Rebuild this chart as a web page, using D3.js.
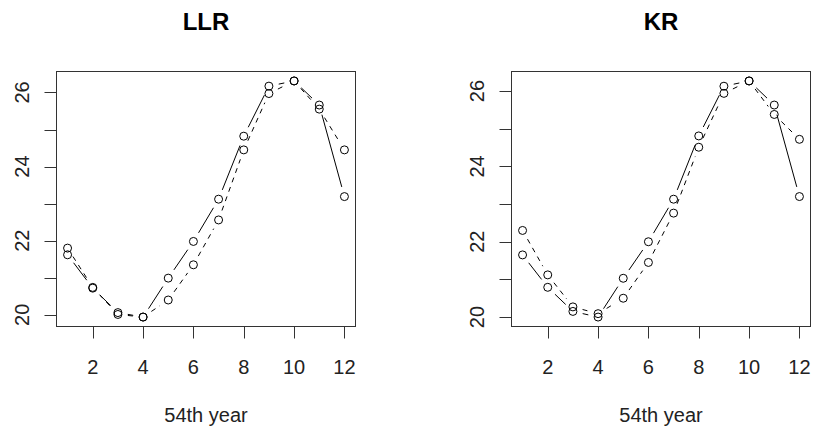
<!DOCTYPE html>
<html>
<head>
<meta charset="utf-8">
<script src="https://cdn.jsdelivr.net/npm/d3@7"></script>
<style>
  body { margin: 0; background: white; }
  text { font-family: "Liberation Sans", Arial, sans-serif; }
</style>
</head>
<body>
<div id="vis"></div>
<script>
// months of the 54th year
const months = [1, 2, 3, 4, 5, 6, 7, 8, 9, 10, 11, 12];

// LLR panel: solid and dashed series
const llrSolid  = [21.62, 20.72, 20.06, 19.94, 20.99, 21.98, 23.12, 24.82, 26.17, 26.31, 25.66, 23.19];
const llrDashed = [21.80, 20.74, 20.01, 19.94, 20.40, 21.35, 22.56, 24.45, 25.97, 26.31, 25.55, 24.45];

// KR panel: solid and dashed series
const krSolid  = [21.65, 20.79, 20.15, 20.00, 21.03, 22.00, 23.13, 24.81, 26.13, 26.27, 25.63, 23.20];
const krDashed = [22.30, 21.12, 20.27, 20.09, 20.50, 21.45, 22.76, 24.51, 25.94, 26.27, 25.38, 24.72];

// axis ticks
const xTicks = [2, 4, 6, 8, 10, 12];
const yTicks = [20, 21, 22, 23, 24, 25, 26];
const yLabels = [20, 22, 24, 26];

const panelTitles = ['LLR', 'KR'];
const xTitle = '54th year';

let W = 814, H = 430;

let svg = d3.select('#vis')
  .append('svg')
  .attr('width', W)
  .attr('height', H)
  .style('background-color', 'white');

let plotTop = 71.5, plotBottom = 326.5;

// R style range: data range widened by 4% on each side
function rRange(vals) {
  let lo = d3.min(vals), hi = d3.max(vals);
  let pad = (hi - lo) * 0.04;
  return [lo - pad, hi + pad];
}

function drawPanel(left, right, title, solid, dashed) {
  let g = svg.append('g');

  let x = d3.scaleLinear()
    .domain(rRange(months))
    .range([left, right]);
  let y = d3.scaleLinear()
    .domain(rRange(solid.concat(dashed)))
    .range([plotBottom, plotTop]);

  // box
  g.append('rect')
    .attr('x', left).attr('y', plotTop)
    .attr('width', right - left).attr('height', plotBottom - plotTop)
    .attr('fill', 'none').attr('stroke', '#333').attr('stroke-width', 1);

  // x axis ticks
  g.selectAll('.xt').data(xTicks).enter().append('line')
    .attr('x1', d => Math.round(x(d)) + 0.5).attr('x2', d => Math.round(x(d)) + 0.5)
    .attr('y1', plotBottom).attr('y2', plotBottom + 12)
    .attr('stroke', '#333');
  g.selectAll('.xl').data(xTicks).enter().append('text')
    .attr('x', d => x(d)).attr('y', 374)
    .attr('text-anchor', 'middle')
    .style('font-size', '20px').attr('fill', '#222')
    .text(d => d);

  // y axis ticks
  g.selectAll('.yt').data(yTicks).enter().append('line')
    .attr('x1', left - 12).attr('x2', left)
    .attr('y1', d => Math.round(y(d)) + 0.5).attr('y2', d => Math.round(y(d)) + 0.5)
    .attr('stroke', '#333');
  g.selectAll('.yl').data(yLabels).enter().append('text')
    .attr('transform', d => 'translate(' + (left - 28) + ',' + y(d) + ') rotate(-90)')
    .attr('text-anchor', 'middle')
    .style('font-size', '20px').attr('fill', '#222')
    .text(d => d);

  // titles
  g.append('text')
    .attr('x', (left + right) / 2).attr('y', 30)
    .attr('text-anchor', 'middle')
    .style('font-size', '24px').style('font-weight', 'bold')
    .text(title);
  g.append('text')
    .attr('x', (left + right) / 2).attr('y', 422)
    .attr('text-anchor', 'middle')
    .style('font-size', '20px').attr('fill', '#222')
    .text(xTitle);

  // type = "b": segments with a gap round every point
  let gap = 10;
  function series(vals, dash) {
    let pts = vals.map((v, i) => [x(months[i]), y(v)]);
    for (let i = 1; i < pts.length; i++) {
      let [x0, y0] = pts[i - 1], [x1, y1] = pts[i];
      let len = Math.hypot(x1 - x0, y1 - y0);
      if (len <= 2 * gap) continue;
      let f = gap / len;
      g.append('line')
        .attr('x1', x0 + (x1 - x0) * f).attr('y1', y0 + (y1 - y0) * f)
        .attr('x2', x1 - (x1 - x0) * f).attr('y2', y1 - (y1 - y0) * f)
        .attr('stroke', 'black').attr('stroke-width', 1)
        .attr('stroke-dasharray', dash);
    }
    g.selectAll(null).data(pts).enter().append('circle')
      .attr('cx', d => d[0]).attr('cy', d => d[1])
      .attr('r', 4)
      .attr('fill', 'none').attr('stroke', 'black').attr('stroke-width', 1);
  }
  series(solid, null);
  series(dashed, '5,5');
}

drawPanel(56.5, 355.5, panelTitles[0], llrSolid, llrDashed);
drawPanel(511.5, 810.5, panelTitles[1], krSolid, krDashed);
</script>
</body>
</html>
